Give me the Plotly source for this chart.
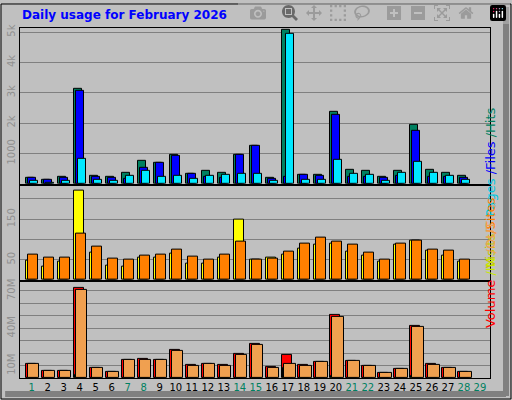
import plotly.graph_objects as go

days = list(range(1, 30))
weekend = [1, 7, 8, 14, 15, 21, 22, 28, 29]

hits  = [189,122,222,3144,256,222,356,756,689,956,322,422,356,956,1256,189,5089,289,289,2356,456,422,222,422,1956,456,356,256,None]
files = [189,122,189,3078,211,189,156,511,678,922,311,233,189,944,1256,167,222,289,256,2256,222,233,200,256,1756,222,233,189,None]
pages = [89,40,89,822,122,89,256,411,222,256,156,256,289,322,322,89,4956,122,122,789,322,289,89,356,722,356,256,122,None]

visits = [47.5,32.5,45,220,67.5,35,32.5,55,55,65,40,40,55,150,50,55,62.5,77.5,87.5,90,70,60,45,87.5,97.5,72.5,60,45,None]
sites  = [62.5,55,55,115,82.5,52.5,50,60,62.5,75,57.5,50,62.5,95,50,52.5,70,90,105,95,87.5,67.5,50,90,97.5,75,72.5,50,None]

volume = [11.5,5.9,5.9,72.6,8.3,5.1,14.7,15.5,14.7,22.8,10.7,11.5,10.7,19.6,27.6,9.1,18.8,10.7,13.1,50.9,13.9,9.9,4.3,7.5,42.1,11.5,8.3,5.1,None]
vin    = [0.5,0.5,0.5,2.7,0.5,0.5,0.5,0.5,0.5,0.5,0.5,0.5,0.5,0.5,0.5,0.5,8.3,0.5,0.5,1.8,0.5,0.5,0.5,0.5,1.8,0.5,0.5,0.5,None]
vout   = [11.5,5.9,5.9,71.0,8.3,5.1,14.7,14.7,14.7,22.0,9.9,11.5,9.9,18.8,26.8,8.3,11.5,9.9,13.1,49.3,13.9,9.9,4.3,7.5,41.3,10.7,8.3,5.1,None]

fig = go.Figure()
def bar(y, color, off, w, ax):
    fig.add_trace(go.Bar(x=days, y=y, marker=dict(color=color, line=dict(color='black', width=1)),
                         offset=off, width=w, xaxis='x' + ax, yaxis='y' + ax, showlegend=False, hoverinfo='skip'))

bar(hits, '#008060', -0.36, 0.52, '')
bar(files, '#0000FF', -0.24, 0.52, '')
bar(pages, '#00E8FF', -0.12, 0.52, '')
bar(visits, '#FFFF00', -0.36, 0.62, '2')
bar(sites, '#FF8000', -0.24, 0.62, '2')
bar(volume, '#FF0000', -0.36, 0.62, '3')
bar(vin, '#C8E800', -0.28, 0.62, '3')
bar(vout, '#F0A050', -0.24, 0.72, '3')

xr = [0.27, 29.63]
xd = [20/512, 490/512]
ticktext = [f"<span style='color:{'#008060' if d in weekend else 'black'}'>{d}</span>" for d in days]
gridc = '#808080'
yax = dict(gridcolor=gridc, tickangle=-90, tickfont=dict(color='#909090', size=10, family='DejaVu Sans'),
           showline=True, linecolor='black', mirror=True, zeroline=False, fixedrange=True)
xax = dict(range=xr, domain=xd, showgrid=False, showline=True, linecolor='black', mirror=True, zeroline=False)

fig.update_layout(
    width=512, height=400, margin=dict(l=0, r=0, t=0, b=0),
    paper_bgcolor='#C0C0C0', plot_bgcolor='#C0C0C0', barmode='overlay', bargap=0,
    font=dict(family='DejaVu Sans'),
    xaxis=dict(xax, anchor='y', showticklabels=False),
    xaxis2=dict(xax, anchor='y2', showticklabels=False),
    xaxis3=dict(xax, anchor='y3', tickvals=days, ticktext=ticktext, ticks='', tickfont=dict(size=10)),
    yaxis=dict(yax, domain=[1-182/400, 1-25/400], range=[0, 5143], anchor='x',
               tickvals=[1000, 2000, 3000, 4000, 5000], ticktext=['1000', '2k', '3k', '4k', '5k']),
    yaxis2=dict(yax, domain=[1-279/400, 1-184/400], range=[0, 233], anchor='x2',
                tickvals=[50, 100, 150, 200], ticktext=['50', '', '150', '']),
    yaxis3=dict(yax, domain=[1-378/400, 1-281/400], range=[0, 77.2], anchor='x3',
                tickvals=[10, 20, 30, 40, 50, 60, 70], ticktext=['10M', '', '', '40M', '', '', '70M']),
    annotations=[
        dict(text='<b>Daily usage for February 2026</b>', x=20/512, y=1-3/400, xref='paper', yref='paper',
             xanchor='left', yanchor='top', showarrow=False, font=dict(color='#0000FF', size=12)),
        dict(text="<span style='color:#00C8E0'>Pages</span><span style='color:#0000FF'> /Files</span><span style='color:#008060'> /Hits</span>",
             textangle=-90, x=500/512, y=1-(25+182)/800, xref='paper', yref='paper', showarrow=False, font=dict(size=13)),
        dict(text="<span style='color:#C8C800'>Visits</span><span style='color:#FF8000'>/Sites</span>",
             textangle=-90, x=500/512, y=1-(184+279)/800, xref='paper', yref='paper', showarrow=False, font=dict(size=13)),
        dict(text="<span style='color:#FF0000'>Volume</span><span style='color:#C8E800'> /IN</span><span style='color:#F0A050'> /OUT</span>",
             textangle=-90, x=500/512, y=1-(281+378)/800, xref='paper', yref='paper', showarrow=False, font=dict(size=13)),
    ],
    shapes=[
        dict(type='rect', xref='paper', yref='paper', x0=0.002, y0=0.0025, x1=0.998, y1=0.9975,
             line=dict(color='black', width=1)),
        dict(type='line', xref='paper', yref='paper', x0=1-6/512, y0=0.01, x1=1-6/512, y1=0.99,
             line=dict(color='#808080', width=6)),
        dict(type='line', xref='paper', yref='paper', x0=0.01, y0=6/400, x1=1-6/512, y1=6/400,
             line=dict(color='#808080', width=6)),
    ],
)
fig.write_html("out.html", post_script="document.body.style.margin='0';document.body.style.overflow='hidden';")
